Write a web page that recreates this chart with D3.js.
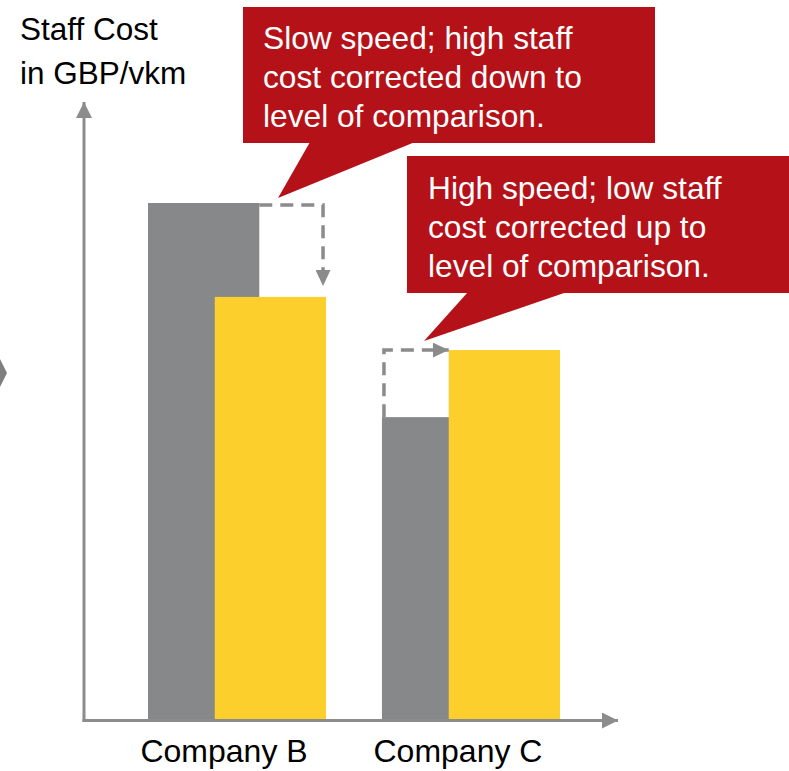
<!DOCTYPE html>
<html>
<head>
<meta charset="utf-8">
<script src="https://cdn.jsdelivr.net/npm/d3@7"></script>
<style>
  html, body { margin: 0; padding: 0; background: #ffffff; }
  svg { display: block; font-family: "Liberation Sans", Arial, sans-serif; }
</style>
</head>
<body>
<svg id="chart" width="789" height="771"></svg>
<script>
// ---- data ----
const companies = ["Company B", "Company C"];
const seriesNames = ["Actual", "Corrected"];
const actualCost = [100, 58.5];      // grey bars
const correctedCost = [81.8, 71.5];  // yellow bars
const yTitleLines = ["Staff Cost", "in GBP/vkm"];
const callout1Lines = ["Slow speed; high staff", "cost corrected down to", "level of comparison."];
const callout2Lines = ["High speed; low staff", "cost corrected up to", "level of comparison."];

// ---- styles ----
const GREY = "#87888a", YELLOW = "#fccf2c", RED = "#b41218", AXIS = "#8c8c8c", DASH = "#8b8b8b";

const svg = d3.select("#chart");

const y = d3.scaleLinear().domain([0, 100]).range([719, 203]);
const x = d3.scaleBand().domain(companies).range([148, 560]).paddingInner(0.239).paddingOuter(0);
const bw = x.bandwidth();
const barW = bw * 0.625;

// arrow markers
const defs = svg.append("defs");
function marker(id, w, h, color) {
  defs.append("marker").attr("id", id)
    .attr("viewBox", `0 0 ${w} ${h}`).attr("refX", w).attr("refY", h / 2)
    .attr("markerWidth", w).attr("markerHeight", h).attr("markerUnits", "userSpaceOnUse")
    .attr("orient", "auto")
    .append("path").attr("d", `M0,0L${w},${h/2}L0,${h}Z`).attr("fill", color);
}
marker("axArrow", 16, 16, AXIS);
marker("dashArrow", 16, 15, DASH);

// bars
const data = companies.map((c, i) => ({ c, a: actualCost[i], k: correctedCost[i] }));
svg.append("g").selectAll("rect").data(data).join("rect")
  .attr("x", d => x(d.c)).attr("width", barW)
  .attr("y", d => y(d.a)).attr("height", d => y(0) - y(d.a))
  .attr("fill", GREY);
svg.append("g").selectAll("rect").data(data).join("rect")
  .attr("x", d => x(d.c) + bw - barW).attr("width", barW)
  .attr("y", d => y(d.k)).attr("height", d => y(0) - y(d.k))
  .attr("fill", YELLOW);

// axes lines with arrows
svg.append("line").attr("x1", 84).attr("x2", 84).attr("y1", 722).attr("y2", 102)
  .attr("stroke", AXIS).attr("stroke-width", 3).attr("marker-end", "url(#axArrow)");
svg.append("line").attr("x1", 82.5).attr("x2", 618).attr("y1", 720.5).attr("y2", 720.5)
  .attr("stroke", AXIS).attr("stroke-width", 3).attr("marker-end", "url(#axArrow)");

// x-axis labels via d3 axis
const xAxis = svg.append("g").attr("transform", "translate(0,720)")
  .call(d3.axisBottom(x).tickSize(0).tickPadding(0));
xAxis.select(".domain").remove();
xAxis.selectAll("text").attr("font-size", 32).attr("fill", "#000")
  .attr("font-family", '"Liberation Sans", Arial, sans-serif')
  .attr("dy", 0).attr("y", 42).attr("dx", -13);

// dashed connectors
const b = data[0], c = data[1];
const bRight = x(b.c) + bw - 3;
svg.append("path")
  .attr("d", `M${x(b.c) + barW},${y(b.a) + 2}H${bRight}V${y(b.k) - 11}`)
  .attr("fill", "none").attr("stroke", DASH).attr("stroke-width", 3.5)
  .attr("stroke-dasharray", "13,8").attr("marker-end", "url(#dashArrow)");
svg.append("path")
  .attr("d", `M${x(c.c) + 2},${y(c.a)}V${y(c.k)}H${x(c.c) + bw - barW}`)
  .attr("fill", "none").attr("stroke", DASH).attr("stroke-width", 3.5)
  .attr("stroke-dasharray", "13,8").attr("marker-end", "url(#dashArrow)");

// y title
svg.append("text").attr("font-size", 31.5).attr("fill", "#000")
  .selectAll("tspan").data(yTitleLines).join("tspan")
  .attr("x", 20).attr("y", (d, i) => 40 + i * 44).text(d => d);

// callouts
function callout(box, tri, lines, tx, ty) {
  const g = svg.append("g");
  g.append("rect").attr("x", box[0]).attr("y", box[1]).attr("width", box[2]).attr("height", box[3])
    .attr("fill", RED);
  g.append("path").attr("d", `M${tri[0]},${tri[1]}L${tri[2]},${tri[3]}L${tri[4]},${tri[5]}Z`).attr("fill", RED);
  g.append("text").attr("font-size", 31.7).attr("fill", "#fff")
    .selectAll("tspan").data(lines).join("tspan")
    .attr("x", tx).attr("y", (d, i) => ty + i * 39).text(d => d);
}
callout([243, 7, 412, 136], [310, 142, 415, 142, 278, 198], callout1Lines, 263, 49);
callout([407, 156, 390, 137], [468, 292, 567, 292, 424, 341], callout2Lines, 428, 199);

// left chevron fragment
svg.append("path").attr("d", "M0,359L7,373L0,387Z").attr("fill", "#7f7f7f");
</script>
</body>
</html>
